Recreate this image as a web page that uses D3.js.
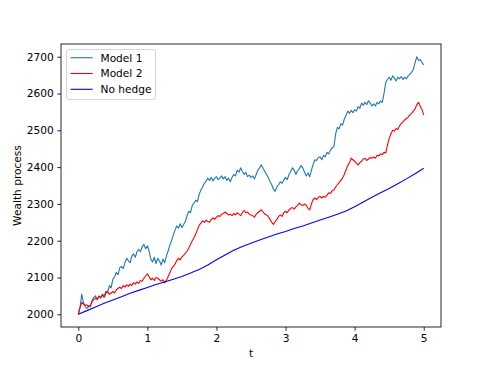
<!DOCTYPE html>
<html>
<head>
<meta charset="utf-8">
<script src="https://cdn.jsdelivr.net/npm/d3@7"></script>
<style>
  html, body { margin: 0; padding: 0; background: #fff; }
  svg { display: block; }
  text { font-family: "DejaVu Sans", sans-serif; fill: #000; }
</style>
</head>
<body>
<svg id="chart" width="490" height="368"></svg>
<script>
// ---- data ----
const seriesNames = ["Model 1", "Model 2", "No hedge"];
const seriesColors = ["#1f77b4", "#ff0000", "#0000ff"];
const tStep = 0.025;
const model1 = [
  2000,2018,2055,2032,2020,2016,2024,2020,2038,2046,
  2050,2040,2048,2044,2055,2050,2063,2060,2078,2072,
  2095,2102,2114,2108,2126,2130,2124,2140,2152,2146,
  2140,2158,2164,2155,2170,2176,2170,2184,2190,2178,
  2186,2172,2150,2142,2155,2138,2152,2145,2134,2150,
  2140,2158,2172,2188,2200,2215,2228,2240,2234,2246,
  2236,2244,2252,2268,2280,2276,2296,2302,2310,2306,
  2326,2338,2346,2356,2362,2370,2364,2372,2362,2370,
  2374,2366,2370,2376,2368,2374,2364,2370,2360,2372,
  2380,2376,2392,2386,2398,2388,2380,2386,2374,2378,
  2372,2376,2368,2380,2392,2398,2406,2396,2388,2380,
  2372,2360,2352,2340,2334,2346,2352,2360,2356,2366,
  2372,2366,2380,2388,2398,2392,2380,2390,2396,2404,
  2398,2386,2376,2384,2374,2392,2408,2420,2418,2426,
  2428,2420,2432,2428,2440,2436,2446,2452,2456,2490,
  2508,2504,2518,2514,2530,2540,2552,2546,2554,2548,
  2556,2552,2564,2560,2574,2568,2576,2570,2580,2574,
  2566,2572,2566,2576,2572,2580,2576,2600,2630,2638,
  2644,2636,2648,2642,2634,2644,2640,2646,2638,2644,
  2640,2648,2652,2658,2666,2684,2700,2690,2692,2684,
  2678
];
const model2 = [
  2000,2018,2032,2028,2024,2026,2020,2024,2034,2040,
  2044,2040,2050,2046,2052,2046,2058,2062,2054,2058,
  2062,2058,2066,2070,2074,2070,2078,2074,2080,2076,
  2082,2078,2086,2082,2088,2084,2092,2090,2098,2104,
  2110,2102,2094,2098,2092,2100,2098,2094,2090,2094,
  2086,2092,2102,2112,2124,2130,2136,2146,2152,2148,
  2156,2160,2166,2172,2180,2190,2200,2208,2218,2230,
  2242,2248,2254,2250,2256,2252,2250,2258,2262,2258,
  2264,2268,2266,2272,2274,2278,2274,2270,2272,2268,
  2274,2270,2276,2272,2268,2276,2282,2276,2278,2272,
  2270,2268,2264,2272,2276,2280,2284,2278,2272,2270,
  2266,2258,2250,2244,2252,2258,2266,2270,2266,2276,
  2280,2276,2284,2288,2290,2286,2292,2296,2302,2298,
  2296,2300,2296,2288,2284,2300,2312,2316,2312,2318,
  2320,2316,2320,2318,2324,2330,2328,2336,2338,2346,
  2352,2358,2364,2370,2380,2392,2404,2412,2424,2420,
  2416,2410,2406,2412,2416,2422,2424,2418,2422,2426,
  2424,2428,2424,2432,2430,2436,2434,2440,2438,2460,
  2478,2490,2500,2498,2505,2502,2512,2518,2523,2528,
  2532,2536,2542,2546,2552,2558,2570,2576,2565,2556,
  2542
];
const hedgeStep = 0.125;
const noHedge = [
  2000,2010,2020,2030,2039,2048,2057,2065,2073,2081,
  2088,2095,2103,2112,2122,2134,2148,2161,2174,2184,
  2193,2202,2210,2218,2225,2233,2240,2248,2256,2264,
  2272,2281,2292,2305,2318,2330,2342,2355,2368,2382,
  2397
];
const xTicks = [0, 1, 2, 3, 4, 5];
const yTicks = [2000, 2100, 2200, 2300, 2400, 2500, 2600, 2700];
const xLabel = "t";
const yLabel = "Wealth process";

// ---- layout ----
const svg = d3.select("#chart");
const L = 61, R = 441, T = 44, B = 327;
const x = d3.scaleLinear().domain([-0.25, 5.25]).range([L, R]);
const y = d3.scaleLinear().domain([1965.5, 2734.5]).range([B, T]);

const toPts = (arr, step) => arr.map((v, i) => [i * step, v]);
const series = [toPts(model1, tStep), toPts(model2, tStep), toPts(noHedge, hedgeStep)];

const clip = svg.append("clipPath").attr("id", "clip")
  .append("rect").attr("x", L).attr("y", T).attr("width", R - L).attr("height", B - T);

const line = d3.line().x(d => x(d[0])).y(d => y(d[1]));
const plot = svg.append("g").attr("clip-path", "url(#clip)");
series.forEach((s, k) => {
  plot.append("path").datum(s)
    .attr("fill", "none")
    .attr("stroke", seriesColors[k])
    .attr("stroke-width", 1.1)
    .attr("stroke-linejoin", "round")
    .attr("d", line);
});

// axes
const fs = "10.6px";
const xAxis = svg.append("g").attr("transform", `translate(0,${B})`)
  .call(d3.axisBottom(x).tickValues(xTicks).tickFormat(d3.format("d")).tickSize(3.7).tickPadding(3.5));
const yAxis = svg.append("g").attr("transform", `translate(${L},0)`)
  .call(d3.axisLeft(y).tickValues(yTicks).tickFormat(d3.format("d")).tickSize(3.7).tickPadding(3.5));
[xAxis, yAxis].forEach(a => {
  a.select(".domain").remove();
  a.selectAll(".tick line").attr("stroke", "#000").attr("stroke-width", 0.85);
  a.selectAll(".tick text").attr("font-family", "DejaVu Sans").attr("font-size", fs).attr("fill", "#000");
});

// frame
svg.append("rect").attr("x", L).attr("y", T).attr("width", R - L).attr("height", B - T)
  .attr("fill", "none").attr("stroke", "#000").attr("stroke-width", 0.85);

// labels
svg.append("text").attr("x", (L + R) / 2).attr("y", 357)
  .attr("text-anchor", "middle").attr("font-size", fs).text(xLabel);
svg.append("text").attr("transform", `translate(21,${(T + B) / 2}) rotate(-90)`)
  .attr("text-anchor", "middle").attr("font-size", fs).text(yLabel);

// legend
const lg = svg.append("g");
lg.append("rect").attr("x", 66.5).attr("y", 49.5).attr("width", 89).attr("height", 50)
  .attr("rx", 2.5).attr("fill", "#fff").attr("fill-opacity", 0.8)
  .attr("stroke", "#cccccc").attr("stroke-width", 0.85);
seriesNames.forEach((n, k) => {
  const cy = 57.7 + k * 15.8;
  lg.append("line").attr("x1", 70.5).attr("x2", 92.7).attr("y1", cy).attr("y2", cy)
    .attr("stroke", seriesColors[k]).attr("stroke-width", 1.1);
  lg.append("text").attr("x", 100.5).attr("y", cy).attr("dy", "0.36em")
    .attr("font-size", fs).text(n);
});
</script>
</body>
</html>
